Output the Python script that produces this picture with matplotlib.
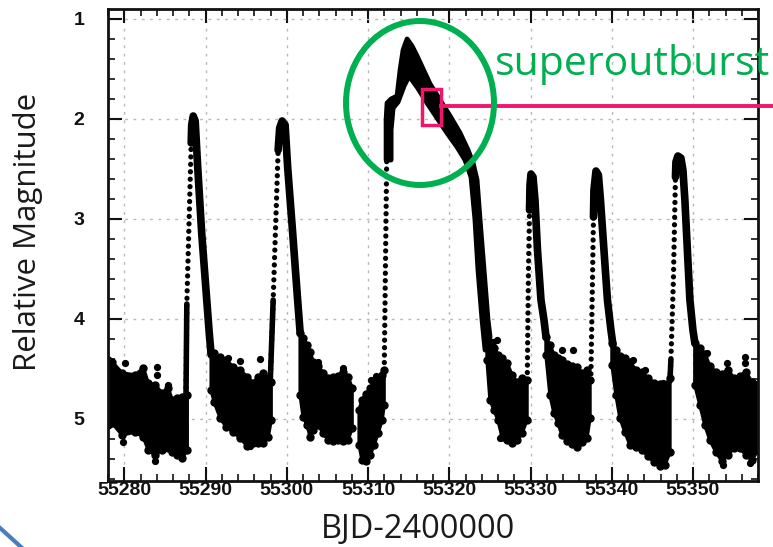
import matplotlib
matplotlib.use("Agg")
import matplotlib.pyplot as plt
from matplotlib.patches import Ellipse, Rectangle, Polygon
from matplotlib.lines import Line2D

# ---------------- data ----------------
# quiescent segments: time, bright (upper) envelope, faint (lower) envelope
qA_t = [55278.0, 55278.5, 55279.75, 55281.35, 55282.35, 55282.95, 55283.8, 55284.65, 55285.4, 55285.9, 55286.5, 55287.15, 55287.75]
qA_top = [4.41, 4.43, 4.54, 4.56, 4.49, 4.64, 4.66, 4.74, 4.69, 4.81, 4.79, 4.78, 4.76]
qA_bot = [5.06, 5.04, 5.16, 5.13, 5.18, 5.31, 5.36, 5.31, 5.29, 5.33, 5.36, 5.39, 5.31]

qB_t = [55290.7, 55291.07, 55291.81, 55292.55, 55293.41, 55294.27, 55295.13, 55295.87, 55296.48, 55297.1, 55297.71, 55298.08]
qB_top = [4.33, 4.34, 4.38, 4.41, 4.48, 4.51, 4.58, 4.64, 4.58, 4.54, 4.59, 4.63]
qB_bot = [4.71, 4.83, 4.99, 5.08, 5.13, 5.19, 5.27, 5.24, 5.24, 5.24, 5.18, 5.01]

qC_t = [55301.65, 55302.02, 55302.51, 55302.88, 55303.25, 55303.86, 55304.48, 55305.09, 55305.71, 55306.32, 55306.94, 55307.55, 55308.04]
qC_top = [4.14, 4.19, 4.26, 4.33, 4.43, 4.47, 4.54, 4.59, 4.58, 4.57, 4.53, 4.58, 4.69]
qC_bot = [4.76, 4.98, 5.06, 5.18, 5.11, 5.06, 5.14, 5.21, 5.22, 5.21, 5.22, 5.21, 5.09]

qD_t = [55308.91, 55309.27, 55309.77, 55310.26, 55310.75, 55311.24, 55311.74, 55311.98]
qD_top = [4.91, 4.81, 4.75, 4.69, 4.64, 4.63, 4.56, 4.51]
qD_bot = [5.26, 5.41, 5.42, 5.36, 5.26, 5.14, 5.01, 4.86]

qE_t = [55324.65, 55325.02, 55325.51, 55326.0, 55326.5, 55327.11, 55327.73, 55328.34, 55328.96, 55329.57]
qE_top = [4.18, 4.23, 4.29, 4.36, 4.39, 4.44, 4.56, 4.63, 4.59, 4.61]
qE_bot = [4.41, 4.81, 4.91, 5.01, 5.18, 5.21, 5.24, 5.21, 5.14, 5.01]

qF_t = [55331.91, 55332.40, 55332.89, 55333.38, 55333.87, 55334.49, 55335.10, 55335.72, 55336.33, 55336.95, 55337.32]
qF_top = [4.18, 4.26, 4.36, 4.39, 4.41, 4.45, 4.47, 4.48, 4.54, 4.51, 4.61]
qF_bot = [4.36, 4.76, 4.94, 5.04, 5.16, 5.22, 5.25, 5.28, 5.23, 5.19, 4.99]

qG_t = [55340.03, 55340.52, 55341.01, 55341.62, 55342.24, 55342.98, 55343.71, 55344.45, 55345.19, 55345.93, 55346.55, 55347.16]
qG_top = [4.24, 4.31, 4.37, 4.39, 4.43, 4.51, 4.53, 4.59, 4.64, 4.65, 4.67, 4.59]
qG_bot = [4.46, 4.76, 4.99, 5.13, 5.26, 5.28, 5.31, 5.37, 5.43, 5.47, 5.46, 5.33]

qH_t = [55350.23, 55350.85, 55351.46, 55352.08, 55352.82, 55353.56, 55354.29, 55355.03, 55355.77, 55356.51, 55357.25, 55358.0]
qH_top = [4.24, 4.29, 4.35, 4.47, 4.53, 4.55, 4.51, 4.59, 4.57, 4.53, 4.63, 4.65]
qH_bot = [4.66, 4.86, 5.06, 5.21, 5.33, 5.42, 5.36, 5.29, 5.29, 5.36, 5.41, 5.31]

# scattered single observations outside the quiescent bands
out_t = [55280.1, 55279.9, 55284.05, 55284.05, 55283.8, 55285.4,
         55294.27, 55296.73, 55292.8, 55295.5,
         55303.86, 55306.94, 55310.4, 55311.0,
         55325.88, 55325.39, 55326.25, 55333.87, 55335.23,
         55342.61, 55344.09, 55346.30,
         55351.71, 55354.17, 55356.39, 55356.39, 55353.68, 55357.0]
out_m = [4.44, 5.23, 4.48, 4.56, 5.42, 4.66,
         4.42, 4.40, 4.39, 5.27,
         4.43, 4.49, 4.61, 4.57,
         4.21, 4.23, 5.19, 4.31, 4.31,
         4.41, 4.51, 4.64,
         4.34, 4.44, 4.38, 4.44, 5.46, 5.44]

# rapid rises (sparsely sampled -> separate dots)
r1_t = [55287.6, 55287.7, 55288.24]
r1_m = [4.76, 3.85, 2.24]
r2_t = [55297.96, 55298.33, 55298.94]
r2_m = [4.65, 3.81, 2.31]
rS_t = [55312.0, 55312.3]
rS_m = [4.51, 2.41]
r3_t = [55329.6, 55329.75, 55329.88]
r3_m = [4.61, 3.5, 2.91]
r4_t = [55337.44, 55337.63, 55337.75]
r4_m = [4.55, 3.6, 2.98]
r5_t = [55347.16, 55347.28, 55347.59, 55347.84]
r5_m = [4.62, 4.41, 3.6, 2.58]

# densely sampled bottoms of the rises
r1s_t = [55287.6, 55287.7]
r1s_m = [4.76, 3.85]
r2s_t = [55297.96, 55298.33]
r2s_m = [4.65, 3.81]
r5s_t = [55347.16, 55347.28]
r5s_m = [4.62, 4.41]

# normal outbursts: maximum and decline
p1_t = [55288.24, 55288.30, 55288.49, 55288.73, 55289.04, 55289.53, 55290.46, 55290.70]
p1_m = [2.24, 2.06, 1.97, 2.02, 2.48, 3.14, 4.14, 4.36]
p2_t = [55298.94, 55299.13, 55299.43, 55299.80, 55300.11, 55300.73, 55301.34, 55301.65]
p2_m = [2.31, 2.09, 2.02, 2.06, 2.48, 3.14, 3.81, 4.14]
p3_t = [55329.88, 55329.94, 55330.06, 55330.31, 55330.55, 55330.86, 55331.29, 55331.66, 55331.91]
p3_m = [2.91, 2.66, 2.55, 2.58, 2.81, 3.31, 3.81, 4.01, 4.18]
p4_t = [55337.75, 55337.81, 55338.06, 55338.36, 55338.61, 55339.04, 55339.47, 55339.90, 55340.15]
p4_m = [2.98, 2.71, 2.52, 2.56, 2.81, 3.31, 3.81, 4.11, 4.26]
p5_t = [55347.84, 55347.90, 55348.14, 55348.51, 55348.76, 55349.00, 55349.37, 55349.62, 55349.99, 55350.23]
p5_m = [2.58, 2.43, 2.37, 2.39, 2.51, 2.81, 3.41, 3.81, 4.11, 4.24]

# superoutburst band: bright edge and faint edge
so_up_t = [55312.23, 55312.23, 55312.35, 55312.84, 55313.58, 55313.95, 55314.32, 55314.81, 55315.42, 55316.04, 55316.78,
           55317.64, 55318.87, 55320.10, 55321.33, 55322.31, 55322.93, 55323.42, 55323.79, 55324.28, 55324.77, 55325.02]
so_up_m = [2.41, 2.01, 1.84, 1.80, 1.77, 1.51, 1.31, 1.20, 1.27, 1.37, 1.50,
           1.65, 1.81, 1.97, 2.14, 2.31, 2.44, 2.61, 3.01, 3.51, 4.01, 4.18]
so_lo_t = [55312.84, 55312.84, 55313.09, 55313.70, 55314.44, 55315.05, 55316.04, 55317.27, 55318.50,
           55319.73, 55320.96, 55321.94, 55322.68, 55323.17, 55323.54, 55324.04, 55324.41]
so_lo_m = [2.41, 2.11, 1.89, 1.83, 1.67, 1.57, 1.68, 1.84, 1.99,
           2.14, 2.28, 2.41, 2.58, 3.01, 3.51, 4.01, 4.31]

x_ticks = [55280, 55290, 55300, 55310, 55320, 55330, 55340, 55350]
x_labels = ["55280", "55290", "55300", "55310", "55320", "55330", "55340", "55350"]
y_ticks = [1, 2, 3, 4, 5]
y_labels = ["1", "2", "3", "4", "5"]

# ---------------- figure ----------------
W, H = 773, 547
fig = plt.figure(figsize=(W / 100, H / 100), dpi=100)
ax = fig.add_axes([108 / W, 66 / H, 650 / W, 472 / H])

K = "#000000"
quiet = [(qA_t, qA_top, qA_bot), (qB_t, qB_top, qB_bot), (qC_t, qC_top, qC_bot),
         (qD_t, qD_top, qD_bot), (qE_t, qE_top, qE_bot), (qF_t, qF_top, qF_bot),
         (qG_t, qG_top, qG_bot), (qH_t, qH_top, qH_bot)]
for t, top, bot in quiet:
    verts = list(zip(t, top)) + list(zip(t[::-1], bot[::-1]))
    ax.add_patch(Polygon(verts, closed=True, facecolor=K, edgecolor=K, lw=2.5,
                         joinstyle="round", zorder=3))
    ax.plot(t, top, linestyle="none", marker="o", ms=5, color=K, zorder=4)
    ax.plot(t, bot, linestyle="none", marker="o", ms=5, color=K, zorder=4)

ax.plot(out_t, out_m, linestyle="none", marker="o", ms=4.2, color=K, zorder=4)

for t, m in [(r1_t, r1_m), (r2_t, r2_m), (rS_t, rS_m), (r3_t, r3_m), (r4_t, r4_m), (r5_t, r5_m)]:
    ax.plot(t, m, color=K, lw=3.8, linestyle=(0, (0.01, 1.4)), dash_capstyle="round", zorder=4)
for t, m in [(r1s_t, r1s_m), (r2s_t, r2s_m), (r5s_t, r5s_m)]:
    ax.plot(t, m, color=K, lw=4.0, solid_capstyle="round", zorder=4)

for t, m in [(p1_t, p1_m), (p2_t, p2_m), (p3_t, p3_m), (p4_t, p4_m), (p5_t, p5_m)]:
    ax.plot(t, m, color=K, lw=5.5, solid_capstyle="round", solid_joinstyle="round", zorder=4)

so_verts = list(zip(so_up_t, so_up_m)) + list(zip(so_lo_t[::-1], so_lo_m[::-1]))
ax.add_patch(Polygon(so_verts, closed=True, facecolor=K, edgecolor=K, lw=3.5,
                     joinstyle="round", zorder=4))

ax.set_xlim(55278.0, 55358.0)
ax.set_ylim(5.62, 0.9)

ax.set_xticks(x_ticks)
ax.set_xticklabels(x_labels, fontfamily="Liberation Sans", fontweight="bold", fontsize=14)
ax.set_yticks(y_ticks)
ax.set_yticklabels(y_labels, fontfamily="Liberation Sans", fontweight="bold", fontsize=14)
ax.set_xticks(range(55278, 55359, 2), minor=True)
ax.set_yticks([1.2, 1.4, 1.6, 1.8, 2.2, 2.4, 2.6, 2.8, 3.2, 3.4, 3.6, 3.8, 4.2, 4.4, 4.6, 4.8, 5.2, 5.4, 5.6], minor=True)
ax.tick_params(which="both", direction="in", top=True, right=True, colors="#111111")
ax.tick_params(which="major", length=10, width=1.5)
ax.tick_params(which="minor", length=5, width=1.2)
ax.tick_params(axis="x", which="major", pad=1)
ax.tick_params(axis="y", which="major", pad=17)
for s in ax.spines.values():
    s.set_linewidth(2)
    s.set_color("#111111")
    s.set_zorder(5)
ax.grid(True, which="major", color="#b8b8b8", linestyle=(0, (2, 4)), lw=1.0)
ax.set_axisbelow(True)

# axis titles
fig.text(418 / W, 1 - 530 / H, "BJD-2400000", fontfamily="Open Sans", fontsize=23.5,
         ha="center", va="center", color="#1a1a1a")
fig.text(28 / W, 1 - 232 / H, "Relative Magnitude", fontfamily="Open Sans", fontsize=22.5,
         rotation=90, ha="center", va="center", color="#1a1a1a")

# annotations on the slide
green = "#00B050"
pink = "#F0166E"
fig.patches.append(Ellipse((420 / W, 1 - 103 / H), 148 / W, 164 / H, transform=fig.transFigure,
                           fill=False, edgecolor=green, lw=4.3, zorder=10))
fig.patches.append(Rectangle((422.5 / W, 1 - 124.5 / H), 19 / W, 36 / H, transform=fig.transFigure,
                             fill=False, edgecolor=pink, lw=2.5, zorder=10))
fig.lines.append(Line2D([441.5 / W, 1.0], [1 - 106 / H, 1 - 106 / H], transform=fig.transFigure,
                        color=pink, lw=2.8, zorder=10))
fig.text(495 / W, 1 - 75 / H, "superoutburst", fontfamily="Open Sans", fontsize=29.5,
         color=green, ha="left", va="baseline", zorder=11)
fig.lines.append(Line2D([0, 10 / W, 21 / W], [1 - 528 / H, 1 - 537 / H, 0], transform=fig.transFigure,
                        color="#4A7EBB", lw=3, zorder=10))

fig.savefig("out.png", dpi=100)
